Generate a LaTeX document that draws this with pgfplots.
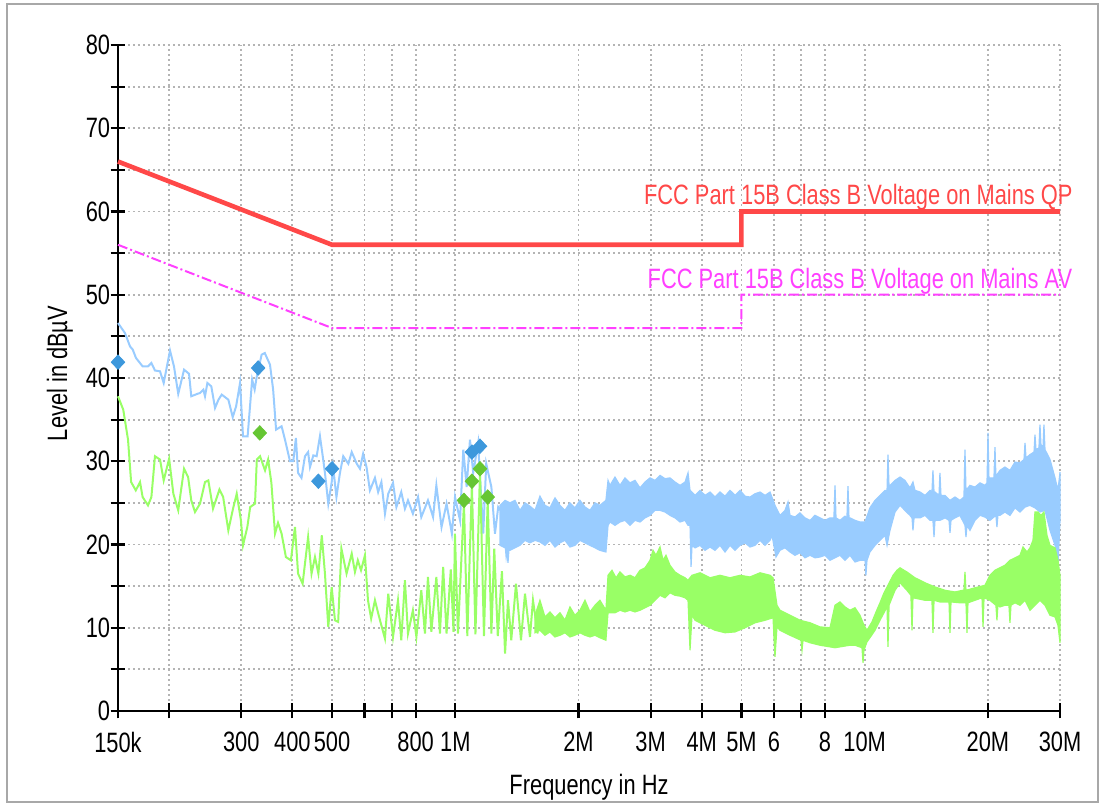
\documentclass[border=0pt]{standalone}
\usepackage{pgfplots}
\pgfplotsset{compat=1.18}
\usepackage{fontspec}
\setmainfont[FakeStretch=0.78]{Liberation Sans}
\definecolor{qpred}{HTML}{FF4848}
\definecolor{avmag}{HTML}{FF40FF}
\definecolor{pkblue}{HTML}{99CCFF}
\definecolor{avgreen}{HTML}{99FF66}
\definecolor{dblue}{HTML}{3D98DC}
\definecolor{dgreen}{HTML}{66C633}
\definecolor{gridgray}{HTML}{B4B4B4}
\definecolor{framegray}{HTML}{A8A8A8}
\newcommand\lab{\fontsize{14pt}{16pt}\selectfont}
\begin{document}
\begin{tikzpicture}
\begin{axis}[name=ax, scale only axis, width=471pt, height=333pt,
 xmode=log, xmin=0.15, xmax=30, ymin=0, ymax=80,
 axis x line*=bottom, axis y line*=left,
 axis line style={black, line width=1.1pt},
 xtick={0.15,0.2,0.3,0.4,0.5,0.6,0.7,0.8,1,2,3,4,5,6,7,8,10,20,30},
 xticklabels={150k,,300,400,500,,,800,1M,2M,3M,4M,5M,6,,8,10M,20M,30M},
 xminorticks=false,
 ytick={0,5,...,80},
 yticklabels={0,,10,,20,,30,,40,,50,,60,,70,,80},
 yminorticks=false,
 tick align=center, major tick length=7.5pt,
 tick style={black, line width=1.1pt},
 grid=major, grid style={gridgray, line width=0.9pt, dash pattern=on 0.9pt off 1.6pt},
 tick label style={font=\lab},
 xticklabel style={anchor=north, inner sep=0pt, yshift=-6.5pt},
 yticklabel style={anchor=east, inner sep=0pt},
 clip=false,
 /pgf/number format/assume math mode=true,
]
% limit lines
\addplot[qpred, line width=2.3pt, no markers] coordinates {(0.15,66) (0.5,56) (5,56) (5,60) (30,60)};
\addplot[avmag, line width=1pt, no markers, dash pattern=on 5pt off 1.5pt on 1pt off 1.5pt] coordinates {(0.15,56) (0.5,46) (5,46) (5,50) (30,50)};
% peak band
\addplot[draw=pkblue, fill=pkblue, line width=0.6pt, no markers] coordinates {
(1.286,24.7) (1.323,25.3) (1.360,25.0) (1.399,25.3) (1.439,24.1) (1.480,25.0) (1.522,24.6) (1.566,24.1) (1.610,25.8) (1.656,24.7)
(1.703,24.4) (1.752,25.6) (1.802,24.7) (1.853,24.1) (1.906,25.0) (1.960,24.4) (2.016,25.3) (2.074,24.5) (2.133,24.1) (2.194,25.0)
(2.256,24.7) (2.333,25.3) (2.361,27.7) (2.387,27.1) (2.455,28.1) (2.525,27.1) (2.597,28.0) (2.672,27.4) (2.748,27.7) (2.826,26.8)
(2.907,27.5) (2.990,28.0) (3.075,27.7) (3.163,28.3) (3.253,27.9) (3.346,28.0) (3.441,27.5) (3.540,27.1) (3.641,27.5) (3.703,28.6)
(3.745,26.5) (3.852,25.9) (3.961,26.5) (4.074,25.9) (4.190,26.3) (4.310,25.7) (4.433,26.3) (4.559,25.8) (4.689,26.5) (4.823,25.9)
(4.961,26.5) (5.102,25.8) (5.248,25.7) (5.398,26.1) (5.551,26.3) (5.710,25.9) (5.872,26.3) (6.039,24.7) (6.211,23.5) (6.388,24.1)
(6.497,25.1) (6.570,23.5) (6.757,23.3) (6.951,23.8) (7.149,23.2) (7.353,22.9) (7.562,23.5) (7.778,23.2) (8.000,22.9) (8.228,23.2)
(8.41,23.2) (8.463,27.1) (8.51,23.2) (8.704,22.9) (8.952,23.4) (9.05,23.2) (9.104,27.0) (9.155,23.2) (9.207,23.2) (9.470,22.9)
(9.740,22.7) (10.02,22.7) (10.30,24.4) (10.60,25.3) (10.90,25.9) (11.21,26.5) (11.34,26.5) (11.40,30.8) (11.47,26.8) (11.53,27.1)
(11.86,27.7) (12.20,28.1) (12.54,27.7) (12.90,26.8) (13.12,27.5) (13.27,26.5) (13.65,26.3) (14.04,25.9) (14.44,26.5) (14.60,26.3)
(14.68,28.9) (14.77,26.3) (14.85,26.3) (15.19,25.9) (15.27,28.6) (15.36,25.9) (15.71,25.9) (16.16,25.3) (16.62,25.7) (17.09,25.3)
(17.48,25.7) (17.58,31.4) (17.68,26.5) (18.08,27.1) (18.60,26.9) (19.13,27.4) (19.67,27.1) (19.90,27.4) (20.01,33.4) (20.12,27.7)
(20.23,28.0) (20.69,28.0) (20.81,31.7) (20.92,28.2) (21.40,28.9) (22.01,29.3) (22.64,28.9) (23.29,29.9) (23.95,29.8) (24.50,30.2)
(24.64,32.2) (24.78,30.4) (25.34,30.8) (25.92,31.1) (26.06,33.2) (26.21,31.4) (26.65,31.6) (26.80,34.4) (26.95,32.0) (27.26,31.6)
(27.41,34.4) (27.57,31.4) (28.36,30.2) (29.17,28.0) (29.66,26.5) (30.0,28.7)
(30.0,22.9) (29.66,17.5) (29.17,19.9) (28.36,21.7) (27.57,24.1) (26.80,23.9) (26.06,24.4) (25.34,24.7) (24.64,24.5) (23.95,23.9)
(23.29,24.4) (22.64,23.5) (22.01,23.9) (21.40,23.5) (21.16,23.5) (21.04,22.1) (20.92,23.5) (20.23,22.9) (19.67,23.3) (19.13,23.5)
(18.60,22.9) (18.08,21.7) (17.78,22.3) (17.68,20.9) (17.58,22.3) (17.09,23.5) (16.62,23.2) (16.25,22.9) (16.16,21.4) (16.07,22.9)
(15.71,23.2) (15.27,22.9) (14.85,22.9) (14.77,20.9) (14.68,22.9) (14.44,22.9) (14.04,23.5) (13.65,23.2) (13.20,23.2) (13.12,21.7)
(13.05,23.2) (12.90,23.5) (12.54,24.1) (12.20,24.7) (11.86,23.9) (11.53,21.7) (11.34,19.9) (11.21,21.1) (10.90,20.5) (10.60,19.9)
(10.30,19.1) (10.13,18.1) (10.07,16.3) (10.02,18.1) (9.740,18.1) (9.470,17.9) (9.207,18.7) (8.952,18.1) (8.704,18.7) (8.463,18.4)
(8.228,18.1) (8.000,18.7) (7.778,18.5) (7.562,18.4) (7.353,18.7) (7.149,18.4) (6.951,19.0) (6.757,18.7) (6.570,19.1) (6.388,19.6)
(6.211,19.3) (6.073,18.5) (5.939,21.1) (5.872,20.5) (5.710,19.9) (5.551,20.5) (5.398,19.9) (5.248,19.7) (5.102,20.2) (4.961,19.9)
(4.823,19.3) (4.689,19.9) (4.559,19.1) (4.433,19.9) (4.310,19.3) (4.190,19.7) (4.074,19.3) (3.961,19.9) (3.852,19.6) (3.787,19.9)
(3.766,17.3) (3.745,22.3) (3.703,22.3) (3.641,22.9) (3.540,22.7) (3.441,23.2) (3.346,23.5) (3.253,23.9) (3.163,24.1) (3.075,24.1)
(2.990,23.5) (2.907,23.2) (2.826,22.7) (2.748,22.9) (2.672,22.3) (2.597,22.9) (2.525,22.7) (2.455,22.3) (2.387,22.7) (2.361,22.3)
(2.333,19.1) (2.256,19.3) (2.194,19.6) (2.133,19.9) (2.074,20.2) (2.016,20.5) (1.960,19.9) (1.906,19.7) (1.853,20.5) (1.802,20.2)
(1.752,19.7) (1.703,20.5) (1.656,19.9) (1.610,20.3) (1.566,20.5) (1.522,20.2) (1.480,20.5) (1.439,19.9) (1.399,19.6) (1.360,19.3)
(1.352,19.3) (1.345,17.8) (1.337,19.3) (1.323,19.6) (1.286,19.9)
} -- cycle;
% peak line
\addplot[pkblue, line width=1pt, no markers] coordinates {
(0.150,46.6) (0.156,45.4) (0.1605,43.8) (0.163,43.4) (0.166,42.4) (0.1723,41.4) (0.1776,41.4) (0.181,41.8) (0.1847,40.9) (0.190,40.8)
(0.194,39.4) (0.201,43.3) (0.2055,41.4) (0.2105,38.1) (0.2175,41.0) (0.2237,40.5) (0.2265,37.8) (0.2345,38.1) (0.238,38.2) (0.2424,38.6)
(0.2447,37.8) (0.248,39.4) (0.2535,39.0) (0.2589,36.4) (0.264,37.4) (0.2688,38.0) (0.279,37.4) (0.286,35.3) (0.2915,36.6) (0.298,39.4)
(0.303,33.0) (0.311,33.0) (0.319,39.8) (0.3235,38.6) (0.3275,40.2) (0.3365,42.8) (0.3425,43.0) (0.3527,41.6) (0.359,38.6) (0.365,33.8)
(0.3765,34.2) (0.3837,32.6) (0.3947,30.0) (0.402,30.0) (0.408,32.8) (0.413,28.6) (0.421,28.0) (0.4294,30.6) (0.437,31.1) (0.4416,29.3)
(0.450,30.7) (0.4585,30.6) (0.4671,33.0) (0.4745,30.6) (0.4804,28.6) (0.4895,24.9) (0.499,27.5) (0.503,29.3) (0.5125,25.7) (0.5227,28.6)
(0.5325,30.6) (0.548,29.7) (0.5585,31.1) (0.5745,29.7) (0.5849,29.1) (0.5955,30.9) (0.607,29.3) (0.6187,26.5) (0.6364,28.0) (0.648,26.3)
(0.660,27.5) (0.6733,23.7) (0.686,26.1) (0.7045,27.4) (0.718,24.5) (0.738,26.3) (0.7534,24.3) (0.7665,25.3) (0.788,23.7) (0.811,25.7)
(0.826,23.3) (0.8575,25.3) (0.8825,23.3) (0.899,27.1) (0.9255,22.1) (0.952,24.9) (0.981,21.3) (0.9984,25.7) (1.027,22.9) (1.046,31.4)
(1.066,26.9) (1.086,32.6) (1.106,28.6) (1.137,32.2) (1.17,21.3) (1.19,29.7) (1.225,26.9) (1.25,21.3) (1.273,24.5) (1.308,23.7)
(1.332,18.9) (1.37,23.3)
};
% average band
\addplot[draw=avgreen, fill=avgreen, line width=0.6pt, no markers] coordinates {
(1.566,11.5) (1.610,13.3) (1.656,11.3) (1.703,11.9) (1.752,11.2) (1.802,11.8) (1.853,10.9) (1.906,12.5) (1.960,11.5) (2.016,12.1)
(2.074,13.3) (2.133,11.9) (2.194,12.7) (2.256,13.3) (2.333,12.1) (2.361,16.3) (2.414,16.9) (2.470,16.0) (2.525,16.7) (2.597,16.1)
(2.672,16.3) (2.748,16.0) (2.826,16.9) (2.907,17.2) (2.990,18.1) (3.041,19.3) (3.092,18.7) (3.163,19.7) (3.217,18.1) (3.271,18.7)
(3.346,17.5) (3.441,16.7) (3.540,16.3) (3.641,16.0) (3.703,15.7) (3.787,16.3) (3.961,16.6) (4.190,16.0) (4.433,16.3) (4.689,16.0)
(4.961,16.3) (5.248,16.1) (5.551,16.6) (5.872,16.3) (5.972,16.0) (6.107,12.7) (6.211,12.1) (6.570,11.5) (6.951,10.9) (7.353,10.6)
(7.778,10.1) (8.228,10.0) (8.463,12.7) (8.704,13.1) (8.952,12.5) (9.207,12.1) (9.470,12.4) (9.740,11.5) (9.96,10.3) (10.13,9.7)
(10.42,10.7) (10.66,11.9) (10.90,13.0) (11.15,14.2) (11.40,15.1) (11.73,16.3) (11.99,16.9) (12.20,17.2) (12.48,16.9) (12.68,16.7)
(13.27,16.0) (14.04,15.4) (14.85,14.9) (15.71,14.5) (16.62,14.3) (17.38,14.5) (17.48,14.5) (17.58,16.7) (17.68,14.5) (18.60,14.8)
(19.67,15.1) (20.23,16.3) (20.81,16.9) (21.40,17.2) (22.01,17.5) (22.64,18.1) (23.29,18.4) (23.95,18.7) (24.36,19.7) (24.92,19.1)
(25.34,19.6) (25.77,20.5) (26.06,23.9) (26.51,23.9) (26.95,23.5) (27.41,23.9) (27.88,21.1) (28.36,19.9) (29.17,19.6) (29.66,18.1)
(30.0,16.3)
(30.0,8.2) (29.66,10.3) (29.17,11.3) (28.36,11.5) (27.57,12.7) (26.80,13.3) (26.06,12.7) (25.34,12.1) (24.64,13.3) (23.95,12.7)
(23.29,13.0) (22.77,12.7) (22.64,10.6) (22.51,12.7) (22.01,12.7) (21.40,12.5) (21.16,12.7) (21.04,10.9) (20.92,12.7) (20.23,13.3)
(19.57,13.6) (19.46,10.1) (19.35,13.6) (18.60,13.3) (17.88,13.0) (17.78,9.4) (17.68,13.0) (17.09,13.0) (16.25,13.1) (16.16,9.4)
(16.07,13.1) (15.27,13.1) (14.77,13.3) (14.68,9.4) (14.60,13.3) (14.04,13.3) (13.12,13.6) (13.05,9.7) (12.97,13.9) (12.68,14.5)
(12.20,15.4) (11.86,14.5) (11.53,13.0) (11.47,12.7) (11.40,7.7) (11.34,12.5) (10.90,10.9) (10.60,9.7) (10.30,8.8) (10.13,8.3)
(9.96,7.3) (9.907,5.8) (9.85,7.6) (9.470,7.9) (9.207,7.9) (8.704,7.7) (8.463,7.6) (8.228,7.7) (7.778,7.9) (7.353,8.2)
(7.07,8.5) (7.03,7.3) (6.99,8.5) (6.570,9.1) (6.211,9.7) (6.107,10.1) (6.039,6.5) (5.972,11.2) (5.710,10.9) (5.398,10.6)
(5.102,10.0) (4.823,9.5) (4.559,9.4) (4.310,9.7) (4.074,10.3) (3.852,10.9) (3.787,11.5) (3.745,7.3) (3.703,13.3) (3.641,13.6)
(3.540,13.8) (3.441,13.9) (3.346,14.2) (3.253,13.6) (3.163,13.9) (3.075,13.3) (2.990,12.7) (2.907,12.4) (2.826,12.1) (2.748,11.9)
(2.672,12.1) (2.597,11.9) (2.525,12.1) (2.455,11.8) (2.361,11.8) (2.333,8.5) (2.256,8.8) (2.194,9.1) (2.133,8.9) (2.074,9.1)
(2.016,9.4) (1.960,9.1) (1.906,8.9) (1.853,9.4) (1.802,9.1) (1.752,8.9) (1.703,9.5) (1.656,9.1) (1.610,9.7) (1.566,9.4)
} -- cycle;
% average line
\addplot[avgreen, line width=1pt, no markers] coordinates {
(0.150,37.8) (0.1545,36.2) (0.1587,32.6) (0.1615,27.5) (0.1658,26.5) (0.1698,27.5) (0.1723,25.7) (0.1776,24.7) (0.181,25.7) (0.1847,30.6)
(0.190,30.2) (0.194,27.7) (0.200,30.3) (0.2048,26.1) (0.2105,24.1) (0.2175,29.1) (0.2225,28.1) (0.2265,25.3) (0.2313,23.9) (0.2379,24.9)
(0.2447,27.5) (0.2493,27.7) (0.256,24.3) (0.2654,26.6) (0.271,25.7) (0.279,21.7) (0.2865,24.3) (0.2925,26.1) (0.2995,22.9) (0.303,19.9)
(0.3105,22.1) (0.3155,24.5) (0.3242,24.9) (0.3275,30.2) (0.3335,30.6) (0.343,28.9) (0.349,30.2) (0.3555,27.4) (0.3628,21.3) (0.369,22.6)
(0.3765,21.3) (0.3857,18.5) (0.3967,18.1) (0.4059,22.1) (0.413,16.5) (0.4237,15.3) (0.437,20.9) (0.4455,16.5) (0.4542,18.5) (0.463,16.5)
(0.472,21.1) (0.4804,16.5) (0.4895,10.1) (0.499,14.9) (0.5082,10.9) (0.5175,10.7) (0.527,19.5) (0.5425,16.5) (0.5585,18.9) (0.5687,16.7)
(0.578,18.1) (0.5885,16.9) (0.6016,18.7) (0.612,13.3) (0.623,11.1) (0.6364,13.3) (0.6547,10.9) (0.6733,8.7) (0.686,14.1) (0.7045,8.9)
(0.7245,13.3) (0.738,8.5) (0.7534,15.7) (0.7665,9.3) (0.788,12.1) (0.8035,8.9) (0.826,14.5) (0.8432,9.3) (0.8575,16.1) (0.874,9.5)
(0.899,16.1) (0.9174,9.3) (0.934,17.3) (0.952,9.3) (0.975,17.0) (0.99,9.5) (0.998,21.3) (1.015,9.3) (1.05,25.0) (1.07,9.0)
(1.098,27.3) (1.12,9.2) (1.149,28.8) (1.175,9.0) (1.2,25.4) (1.225,9.3) (1.245,19.5) (1.27,9.0) (1.30,16.8) (1.323,6.9)
(1.345,13.3) (1.37,8.5) (1.407,15.3) (1.447,8.5) (1.48,14.1) (1.522,8.9) (1.548,13.3) (1.59,9.3)
};
% final measurement markers
\addplot[only marks, mark=diamond*, mark size=3.6pt, mark options={draw=dblue, fill=dblue, xscale=1.25}] coordinates {
(0.150,41.9) (0.330,41.2) (0.463,27.6) (0.500,29.1) (1.098,31.1) (1.149,31.8)
};
\addplot[only marks, mark=diamond*, mark size=3.6pt, mark options={draw=dgreen, fill=dgreen, xscale=1.25}] coordinates {
(0.333,33.4) (1.05,25.3) (1.098,27.6) (1.149,29.1) (1.2,25.7)
};
\node[anchor=base east, inner sep=0pt, text=qpred, font=\lab] at (axis cs:32.27,60.8) {FCC Part 15B Class B Voltage on Mains QP};
\node[anchor=base east, inner sep=0pt, text=avmag, font=\lab] at (axis cs:32.2,50.8) {FCC Part 15B Class B Voltage on Mains AV};
\node[font=\lab, anchor=center] at (axis description cs:0.5,-0.1141) {Frequency in Hz};
\node[font=\lab, rotate=90, anchor=center] at (axis description cs:-0.0616,0.5068) {Level in dBµV};
\end{axis}
\draw[framegray, line width=1.2pt] ([shift={(-55.5pt,-45.5pt)}]ax.south west) rectangle ([shift={(19pt,20.5pt)}]ax.north east);
\path ([shift={(-59pt,-47pt)}]ax.south west) rectangle ([shift={(20pt,22.5pt)}]ax.north east);
\end{tikzpicture}
\end{document}
